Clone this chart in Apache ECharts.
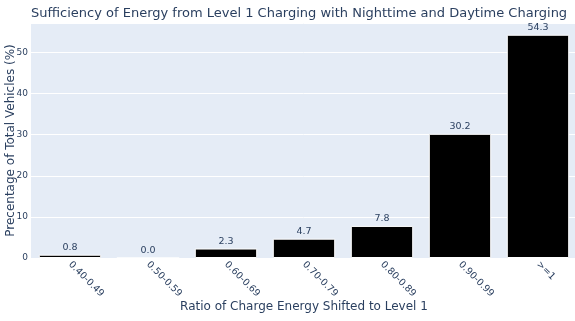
<!DOCTYPE html>
<html>
<head>
<meta charset="utf-8">
<script src="https://cdn.jsdelivr.net/npm/echarts@6/dist/echarts.min.js"></script>
<style>html,body{margin:0;padding:0;background:#fff}#c{width:575px;height:321px}</style>
</head>
<body>
<div id="c"></div>
<script>
const categories = ["0.40-0.49", "0.50-0.59", "0.60-0.69", "0.70-0.79", "0.80-0.89", "0.90-0.99", ">=1"];
const values = [0.8, 0.0, 2.3, 4.7, 7.8, 30.2, 54.3];
const yMax = 57.16;

const txt = '#2a3f5f';
const font = '"DejaVu Sans", Verdana, sans-serif';
const chart = echarts.init(document.getElementById('c'), null, {renderer: 'canvas'});
chart.setOption({
  animation: false,
  textStyle: {fontFamily: font},
  title: {
    text: 'Sufficiency of Energy from Level 1 Charging with Nighttime and Daytime Charging',
    left: 26, top: 2,
    textStyle: {fontFamily: font, fontSize: 13, fontWeight: 'normal', color: txt}
  },
  grid: {left: 31, right: -2, top: 23, bottom: 63, containLabel: false, outerBoundsMode: 'none',
         show: true, backgroundColor: '#E5ECF6', borderWidth: 0},
  xAxis: {
    type: 'category', data: categories,
    axisLine: {show: false}, axisTick: {show: false},
    axisLabel: {rotate: -45, color: txt, fontSize: 9.5, fontFamily: font, margin: 5, interval: 0},
    name: 'Ratio of Charge Energy Shifted to Level 1',
    nameLocation: 'middle', nameGap: 43, nameMoveOverlap: false,
    nameTextStyle: {fontSize: 12, color: txt, fontFamily: font}
  },
  yAxis: {
    type: 'value', min: 0, max: yMax, interval: 10,
    axisLine: {show: false}, axisTick: {show: false},
    splitLine: {lineStyle: {color: '#ffffff', width: 1}},
    axisLabel: {color: txt, fontSize: 9, fontFamily: font, margin: 3,
      showMaxLabel: false},
    name: 'Precentage of Total Vehicles (%)',
    nameLocation: 'middle', nameGap: 14, nameMoveOverlap: false,
    nameTextStyle: {fontSize: 12, color: txt, fontFamily: font}
  },
  series: [{
    type: 'bar', data: values, barCategoryGap: '20%',
    itemStyle: {color: '#000000', borderColor: '#ffffff', borderWidth: 1},
    label: {show: true, position: 'top', distance: 2, color: txt, fontSize: 9.5, fontFamily: font,
      formatter: p => p.value.toFixed(1)}
  }]
});
</script>
</body>
</html>
